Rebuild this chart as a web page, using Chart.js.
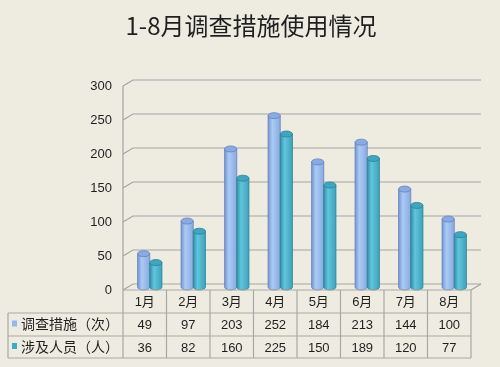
<!DOCTYPE html>
<html>
<head>
<meta charset="utf-8">
<script src="https://cdn.jsdelivr.net/npm/chart.js@4/dist/chart.umd.min.js"></script>
<style>
    html, body { margin: 0; padding: 0; background: #eeece1; }
</style>
</head>
<body>
<canvas id="myChart" width="500" height="367"></canvas>
<script>
const months = ['1月', '2月', '3月', '4月', '5月', '6月', '7月', '8月'];
const seriesNames = ['调查措施（次）', '涉及人员（人）'];
const measures = [49, 97, 203, 252, 184, 213, 144, 100];
const people = [36, 82, 160, 225, 150, 189, 120, 77];
const yTicks = [0, 50, 100, 150, 200, 250, 300];
const titleText = '1-8月调查措施使用情况';

const FONT = '"Liberation Sans", "Noto Sans CJK SC", sans-serif';
const GRID = '#a3a3a3';
// half of the 3d depth
const DX = 5, DY = 3;

const looks = [
    { dark: '#7595cf', light: '#abcaf5', right: '#89aadf', top: '#8aabe2', rim: '#6283c2', key: '#95b8ec' },
    { dark: '#2f91a9', light: '#62c5dc', right: '#3ca2bb', top: '#42a5be', rim: '#2a8199', key: '#3dabc4' }
];

// title drawn centred over the canvas
const heading = {
    id: 'heading',
    afterDraw(chart) {
        const ctx = chart.ctx;
        ctx.save();
        ctx.fillStyle = '#1f1f1f';
        ctx.font = '24px "Noto Sans CJK SC", sans-serif';
        ctx.textAlign = 'center';
        ctx.textBaseline = 'middle';
        ctx.fillText(titleText, 251, 26);
        ctx.restore();
    }
};

// back wall, side and floor lines
const wall = {
    id: 'wall',
    beforeDatasetsDraw(chart) {
        const ctx = chart.ctx;
        const y = chart.scales.y;
        const a = chart.chartArea;
        ctx.save();
        ctx.strokeStyle = GRID;
        ctx.lineWidth = 1.2;
        for (let v of yTicks) {
            const py = y.getPixelForValue(v);
            ctx.beginPath();
            ctx.moveTo(a.left - DX, py + DY);
            ctx.lineTo(a.left + DX, py - DY);
            ctx.lineTo(a.right + DX, py - DY);
            ctx.stroke();
        }
        ctx.beginPath();
        ctx.moveTo(a.left - DX, y.getPixelForValue(300) + DY);
        ctx.lineTo(a.left - DX, y.getPixelForValue(0) + DY);
        ctx.stroke();
        ctx.beginPath();
        ctx.moveTo(a.right - DX, y.getPixelForValue(0) + DY);
        ctx.lineTo(a.right + DX, y.getPixelForValue(0) - DY);
        ctx.stroke();
        ctx.restore();
    }
};

// bars drawn as cylinders
const cylinders = {
    id: 'cylinders',
    afterDatasetsDraw(chart) {
        const ctx = chart.ctx;
        ctx.save();
        chart.data.datasets.forEach((ds, di) => {
            const c = looks[di];
            chart.getDatasetMeta(di).data.forEach(bar => {
                const w = bar.width, rx = w / 2, ry = 3;
                const x0 = bar.x - rx, x1 = bar.x + rx;
                const g = ctx.createLinearGradient(x0, 0, x1, 0);
                g.addColorStop(0, c.dark);
                g.addColorStop(0.35, c.light);
                g.addColorStop(1, c.right);
                ctx.beginPath();
                ctx.moveTo(x0, bar.y);
                ctx.lineTo(x0, bar.base);
                ctx.ellipse(bar.x, bar.base, rx, ry, 0, Math.PI, 0, true);
                ctx.lineTo(x1, bar.y);
                ctx.closePath();
                ctx.fillStyle = g;
                ctx.fill();
                ctx.strokeStyle = c.rim;
                ctx.lineWidth = 0.8;
                ctx.stroke();
                ctx.beginPath();
                ctx.ellipse(bar.x, bar.y, rx, ry, 0, 0, Math.PI * 2);
                ctx.fillStyle = c.top;
                ctx.fill();
                ctx.stroke();
            });
        });
        ctx.restore();
    }
};

// data table under the plot
const dataTable = {
    id: 'dataTable',
    afterDraw(chart) {
        const ctx = chart.ctx;
        const x = chart.scales.x;
        const a = chart.chartArea;
        const cw = (a.right - a.left) / months.length;
        const left = a.left - DX, right = a.right - DX;
        const top = chart.scales.y.getPixelForValue(0) + DY;
        const rows = [top, top + 23, top + 46, top + 68];
        const rowLeft = 8;
        ctx.save();
        ctx.strokeStyle = '#a8a8a8';
        ctx.lineWidth = 1.2;
        ctx.beginPath();
        ctx.moveTo(left, rows[0]); ctx.lineTo(right, rows[0]);
        for (let r = 1; r < rows.length; r++) {
            ctx.moveTo(rowLeft, rows[r]);
            ctx.lineTo(right, rows[r]);
        }
        ctx.moveTo(rowLeft, rows[1]); ctx.lineTo(rowLeft, rows[3]);
        for (let i = 0; i <= months.length; i++) {
            const px = left + i * cw;
            ctx.moveTo(px, rows[0]); ctx.lineTo(px, rows[3]);
        }
        ctx.stroke();

        ctx.fillStyle = '#1f1f1f';
        ctx.font = '13px ' + FONT;
        ctx.textAlign = 'center';
        ctx.textBaseline = 'middle';
        const values = [measures, people];
        months.forEach((m, i) => {
            const cx = x.getPixelForValue(i) - DX;
            ctx.fillText(m, cx, (rows[0] + rows[1]) / 2 + 1);
            ctx.fillText(String(values[0][i]), cx, (rows[1] + rows[2]) / 2 + 1);
            ctx.fillText(String(values[1][i]), cx, (rows[2] + rows[3]) / 2 + 1);
        });
        ctx.textAlign = 'left';
        ctx.font = '14px ' + FONT;
        seriesNames.forEach((name, s) => {
            const cy = (rows[s + 1] + rows[s + 2]) / 2;
            ctx.fillStyle = looks[s].key;
            ctx.fillRect(12, cy - 4, 5, 6);
            ctx.fillStyle = '#1f1f1f';
            ctx.fillText(name, 21, cy + 1);
        });
        ctx.restore();
    }
};

const ctx = document.getElementById('myChart').getContext('2d');
const chart = new Chart(ctx, {
    type: 'bar',
    data: {
        labels: months,
        datasets: [
            { label: seriesNames[0], data: measures, backgroundColor: 'rgba(0,0,0,0)', borderWidth: 0 },
            { label: seriesNames[1], data: people, backgroundColor: 'rgba(0,0,0,0)', borderWidth: 0 }
        ]
    },
    options: {
        responsive: false,
        animation: false,
        layout: { padding: { left: 0, right: 24, top: 83, bottom: 80 } },
        datasets: { bar: { categoryPercentage: 0.56, barPercentage: 1 } },
        scales: {
            x: { display: false },
            y: {
                min: 0,
                max: 300,
                afterFit(scale) { scale.width = 128; },
                afterBuildTicks(scale) { scale.ticks = yTicks.map(v => ({ value: v })); },
                grid: { display: false, drawTicks: false },
                border: { display: false },
                ticks: {
                    padding: 16,
                    labelOffset: 3,
                    color: '#1f1f1f',
                    font: { family: FONT, size: 13 }
                }
            }
        },
        plugins: {
            legend: { display: false },
            tooltip: { enabled: false },
            title: { display: false }
        }
    },
    plugins: [wall, cylinders, dataTable, heading]
});
</script>
</body>
</html>
